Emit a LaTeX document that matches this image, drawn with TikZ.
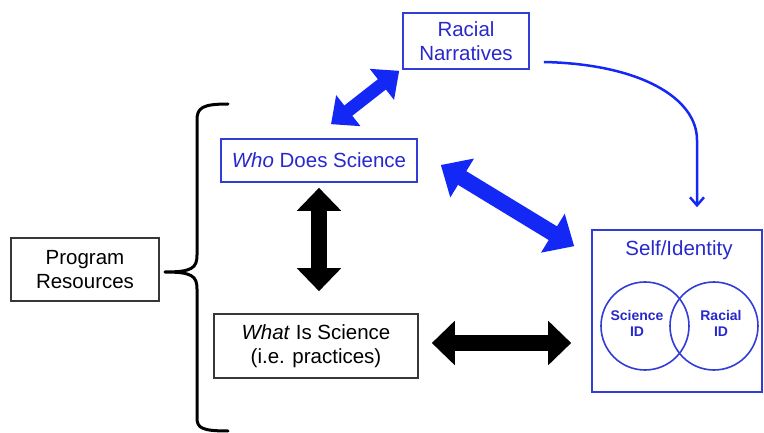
\documentclass[tikz,border=0pt]{standalone}
\usepackage{fontspec}
\setmainfont{Liberation Sans}
\usetikzlibrary{arrows.meta,calc}
\definecolor{txtblue}{RGB}{40,40,205}
\definecolor{boxblue}{RGB}{50,60,215}
\definecolor{arrowblue}{RGB}{20,40,245}
\definecolor{boxgray}{RGB}{55,55,55}
\begin{document}
\begin{tikzpicture}[x=1pt,y=-1pt,
  box/.style={draw, line width=1.6pt, inner sep=0pt, align=center,
    font=\fontsize{20.5}{24}\selectfont},
  bluebox/.style={box, draw=boxblue, text=txtblue},
  blackbox/.style={box, draw=boxgray, text=black},
  fatblack/.style={draw=black, line width=16pt,
    {Triangle[width=43pt,length=23pt]}-{Triangle[width=43pt,length=23pt]}},
  fatblue/.style={draw=arrowblue, line width=16pt,
    {Triangle[width=44pt,length=25pt]}-{Triangle[width=44pt,length=25pt]}},
  midblue/.style={draw=arrowblue, line width=13pt,
    {Triangle[width=38pt,length=22pt]}-{Triangle[width=38pt,length=22pt]}},
  thinblue/.style={draw=arrowblue, line width=2.5pt,
    -{Straight Barb[length=8pt,width=14pt,line width=2.5pt]}},
  idcircle/.style={circle, draw=boxblue, line width=1.6pt, minimum size=88pt, inner sep=0pt},
  idtext/.style={text=txtblue, align=center, font=\bfseries\fontsize{14}{16}\selectfont},
]
\useasboundingbox (0,0) rectangle (764,433);

% boxes
\node[bluebox, minimum width=126pt, minimum height=56pt] (racial) at (466,41) {Racial\\Narratives};
\node[bluebox, minimum width=196pt, minimum height=43pt] (who) at (319,160.5) {\textit{Who} Does Science};
\node[blackbox, minimum width=204pt, minimum height=64pt] (what) at (316,346) {\textit{What} Is Science\\(i.e. practices)};
\node[blackbox, minimum width=148pt, minimum height=63pt] (prog) at (85,269.5) {Program\\Resources};

% self / identity panel
\node[draw=boxblue, line width=1.6pt, minimum width=170pt, minimum height=162pt, inner sep=0pt] (self) at (677,311) {};
\node[text=txtblue, font=\fontsize{20.5}{24}\selectfont] (selftitle) at (679,250) {Self/Identity};
\node[idcircle] (sci) at (645,326) {};
\node[idcircle] (rac) at (714,326) {};
\node[idtext] (scitext) at (637,323) {Science\\ID};
\node[idtext] (ractext) at (721,323) {Racial\\ID};

% brace grouping the programme resources
\draw[line width=3pt, line cap=round, line join=round]
  (228,104) .. controls (202,104) and (197,108) .. (197,120) -- (197,255)
  .. controls (197,268) and (192,272) .. (165,272)
  .. controls (192,272) and (197,276) .. (197,289) -- (197,418)
  .. controls (197,428) and (202,431) .. (228,431);

% black double arrows
\draw[fatblack] ($(who.south)+(0,5)$) -- ($(what.north)+(3,-22)$);
\draw[fatblack] ($(what.east)+(13,-3)$) -- ($(self.west)+(-20,32)$);

% blue double arrows
\draw[midblue] ($(who.north)+(12,-14)$) -- ($(racial.south west)+(-3,1)$);
\draw[fatblue] ($(who.east)+(23,4.5)$) -- ($(self.north west)+(-17,17)$);

% narratives feeding identity
\draw[thinblue] ($(racial.east)+(14,21)$) .. controls (640,64) and (697,98) .. (697,140)
  -- ($(self.north)+(20,-22)$);
\end{tikzpicture}
\end{document}
